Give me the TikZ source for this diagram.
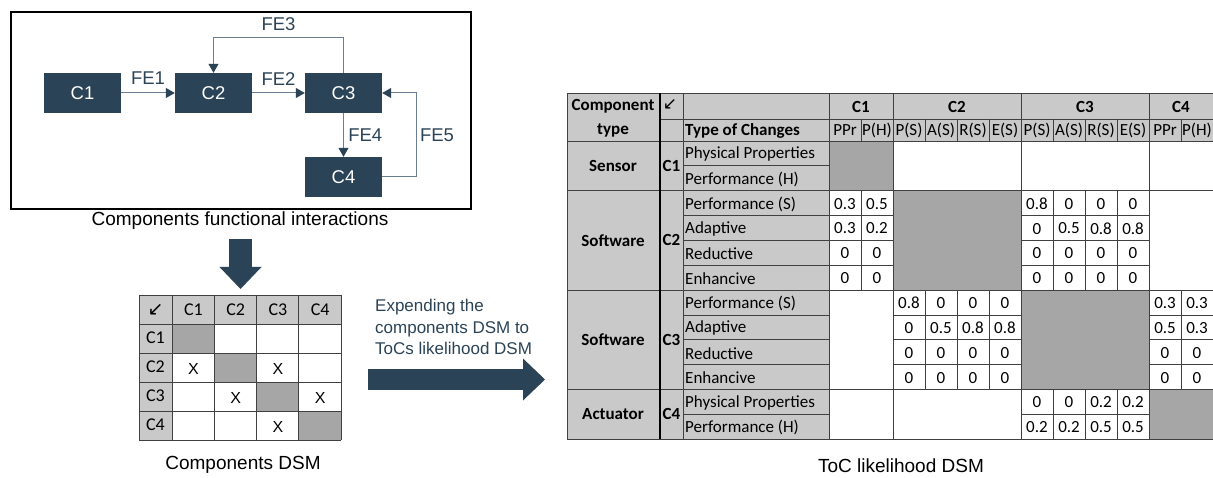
\documentclass[tikz,border=0pt]{standalone}
\usepackage{fontspec}
\setmainfont{Liberation Sans}
\newfontfamily\tabfont{Carlito}
\newfontfamily\symfont{DejaVu Sans}
\usetikzlibrary{arrows.meta}
\definecolor{boxblue}{HTML}{2B4356}
\definecolor{flowgray}{HTML}{6A8092}
\definecolor{headgray}{HTML}{C9C9C9}
\definecolor{diaggray}{HTML}{A6A6A6}
\definecolor{gridgray}{HTML}{404040}

\begin{document}
\begin{tikzpicture}[x=1pt,y=-1pt,
    comp/.style={fill=boxblue,text=white,minimum width=77pt,minimum height=40pt,inner sep=0pt,font=\fontsize{18.5}{20}\selectfont},
    flow/.style={draw=flowgray,line width=1pt,-{Triangle[length=9pt,width=10pt,color=boxblue]}},
    fe/.style={text=boxblue,font=\fontsize{18.5}{20}\selectfont},
    caption/.style={font=\fontsize{19}{21}\selectfont},
    bigarrow/.style={draw=boxblue,-{Triangle[length=22pt,width=42pt,line width=0pt,color=boxblue]}},
    tgrid/.style={draw=gridgray,line width=0.8pt},
    tab/.style={font=\tabfont\fontsize{17}{19}\selectfont,inner sep=0pt},
    tabb/.style={font=\tabfont\bfseries\fontsize{17}{19}\selectfont,inner sep=0pt},
  ]
\useasboundingbox (0,0) rectangle (1213,478);

\draw[line width=1.5pt] (11,12) rectangle (471,209);
\node[comp] (c1) at (82.5,93) {C1};
\node[comp] (c2) at (213.5,93) {C2};
\node[comp] (c3) at (343.5,93) {C3};
\node[comp] (c4) at (343.5,177) {C4};

\draw[flow] (c1) to node[fe,above=5pt] {FE1} (c2);
\draw[flow] (c2) to node[fe,above=4pt] {FE2} (c3);
\draw[flow] (c3.north) -- ++(0,-35) -| node[fe,pos=0.25,above=3pt] {FE3} (c2.north);
\draw[flow] (c3) to node[fe,right=1pt] {FE4} (c4);
\draw[flow] (c4.east) -- ++(34,0) |- node[fe,pos=0.25,right=0pt] {FE5} (c3.east);
\node[caption] (cap1) at (240,221) {Components functional interactions};

\coordinate (dn1) at (240.5,239);
\coordinate (dn2) at (240.5,289);
\draw[bigarrow,line width=23pt] (dn1) -- (dn2);

\fill[headgray] (139,295) rectangle (341,324);
\fill[headgray] (139,324) rectangle (172,440);
\foreach \k in {0,...,3}
  \fill[diaggray] ({172+42.25*\k},{324+29*\k}) rectangle ({214.25+42.25*\k},{353+29*\k});
\foreach \x in {139,172,214.25,256.5,298.75,341}
  \draw[tgrid] (\x,295) -- (\x,440);
\foreach \y in {295,324,353,382,411,440}
  \draw[tgrid] (139,\y) -- (341,\y);
\node[font=\symfont\fontsize{19}{19}\selectfont,inner sep=0pt] (sc) at (155.5,310) {↙};
\foreach \k in {1,...,4}{
  \node[tab,font=\tabfont\fontsize{18}{19}\selectfont] (sh\k) at ({151.125+42.25*\k},310) {C\k};
  \node[tab,font=\tabfont\fontsize{18}{19}\selectfont] (sr\k) at (155.5,{308.5+29*\k}) {C\k};
}
\foreach \r/\c in {2/1,2/3,3/2,3/4,4/3}
  \node[font=\fontsize{16}{16}\selectfont,inner sep=0pt] (x\r\c) at ({151.125+42.25*\c},{311+29*\r}) {X};
\node[caption] (cap2) at (243,465) {Components DSM};

\node[text=boxblue,font=\fontsize{17}{21.5}\selectfont,align=left,anchor=north west,inner sep=0pt] (expl) at (375,299) {Expending the\\components DSM to\\ToCs likelihood DSM};
\coordinate (rt1) at (368,379.5);
\coordinate (rt2) at (545,379.5);
\draw[bigarrow,line width=21pt] (rt1) -- (rt2);

\fill[headgray] (567,93) rectangle (829,439.2);
\fill[headgray] (829,93) rectangle (1213,141);
\fill[diaggray] (829,141) rectangle (893,190.7);
\fill[diaggray] (893,190.7) rectangle (1021,290.1);
\fill[diaggray] (1021,290.1) rectangle (1149,389.5);
\fill[diaggray] (1149,389.5) rectangle (1213,439.2);
\foreach \y in {141,190.7,290.1,389.5}
  \draw[tgrid] (567,\y) -- (1213,\y);
\draw[tgrid] (660,119) -- (1213,119);
\foreach \x in {683,829,893,1021,1149}
  \draw[tgrid] (\x,93) -- (\x,439.2);
\foreach \c in {1,3,4,5,7,8,9,11}
  \draw[tgrid] ({829+32*\c},119) -- ({829+32*\c},141);
\foreach \r in {1,3,4,5,7,8,9,11}
  \draw[tgrid] (683,{141+24.85*\r}) -- (829,{141+24.85*\r});
\foreach \ca/\cb/\ra/\rb in {0/2/2/6,6/10/2/6,2/6/6/10,10/12/6/10,6/10/10/12}{
  \foreach \c in {\ca,...,\cb}
    \draw[tgrid] ({829+32*\c},{141+24.85*\ra}) -- ({829+32*\c},{141+24.85*\rb});
  \foreach \r in {\ra,...,\rb}
    \draw[tgrid] ({829+32*\ca},{141+24.85*\r}) -- ({829+32*\cb},{141+24.85*\r});
}
\draw[tgrid] (567,93) rectangle (1213,439.2);
\draw[line width=2.5pt] (660,93) -- (660,439.2);

\node[tabb] (ct1) at (613,106) {Component};
\node[tabb] (ct2) at (613,130) {type};
\node[font=\symfont\fontsize{17}{17}\selectfont,inner sep=0pt] (corner) at (670,105) {↙};
\node[tabb,anchor=west] (toc) at (685,130.5) {Type of Changes};
\foreach \n/\x in {C1/861,C2/957,C3/1085,C4/1181}
  \node[tabb] (h\n) at (\x,106.5) {\n};
\foreach \t [count=\c from 0] in {PPr,{P(H)},{P(S)},{A(S)},{R(S)},{E(S)},{P(S)},{A(S)},{R(S)},{E(S)},PPr,{P(H)}}
  \node[tab] (s\c) at ({845+32*\c},130.5) {\t};
\foreach \t/\n/\y in {Sensor/C1/165.85,Software/C2/240.4,Software/C3/339.8,Actuator/C4/414.35}{
  \node[tabb] (ty\n) at (613,\y) {\t};
  \node[tabb] (cn\n) at (671.5,\y) {\n};
}
\foreach \t [count=\r from 0] in {Physical Properties,Performance (H),Performance (S),Adaptive,Reductive,Enhancive,Performance (S),Adaptive,Reductive,Enhancive,Physical Properties,Performance (H)}
  \node[tab,anchor=west] (ch\r) at (685,{154.4+24.85*\r}) {\t};
\foreach \r/\c/\vals in {2/0/{0.3,0.5},3/0/{0.3,0.2},4/0/{0,0},5/0/{0,0},
    2/6/{0.8,0,0,0},3/6/{0,0.5,0.8,0.8},4/6/{0,0,0,0},5/6/{0,0,0,0},
    6/2/{0.8,0,0,0},7/2/{0,0.5,0.8,0.8},8/2/{0,0,0,0},9/2/{0,0,0,0},
    6/10/{0.3,0.3},7/10/{0.5,0.3},8/10/{0,0},9/10/{0,0},
    10/6/{0,0,0.2,0.2},11/6/{0.2,0.2,0.5,0.5}}
  \foreach \v [count=\k from 0] in \vals
    \node[tab] (v\r-\c-\k) at ({845+32*(\c+\k)},{154+24.85*\r}) {\v};
\node[caption] (cap3) at (901,466) {ToC likelihood DSM};
\end{tikzpicture}
\end{document}
